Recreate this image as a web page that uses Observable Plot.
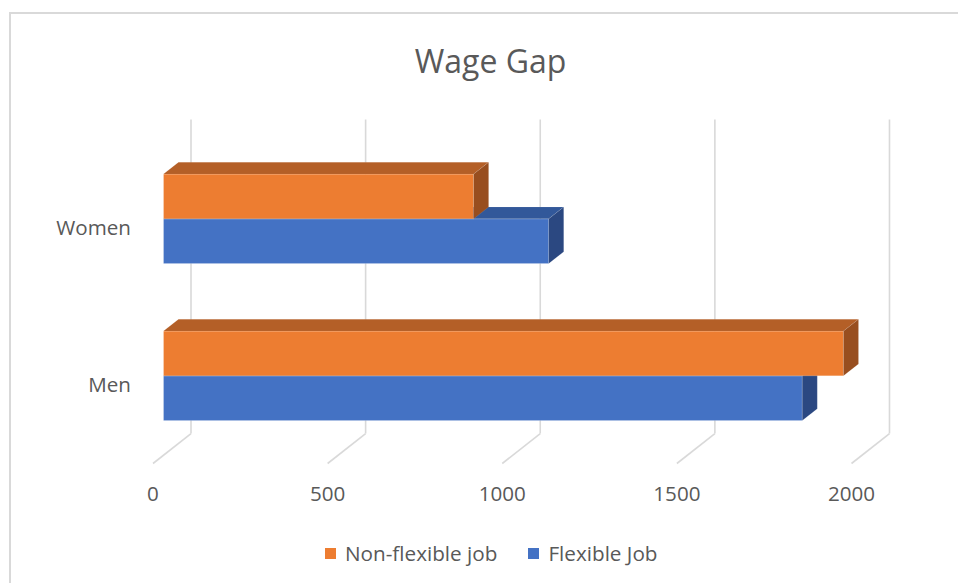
<!DOCTYPE html>
<html>
<head>
<meta charset="utf-8">
<script src="https://cdn.jsdelivr.net/npm/d3@7"></script>
<script src="https://cdn.jsdelivr.net/npm/@observablehq/plot@0.6"></script>
<style>
  body { margin: 0; background: #fff; }
  #wrap { position: relative; width: 958px; height: 583px; overflow: hidden; font-family: "Open Sans", sans-serif; color: #595959; background: #fff; }
  #frame { position: absolute; left: 9px; top: 12px; width: 1200px; height: 1200px; border-left: 2px solid #d9d9d9; border-top: 2px solid #d9d9d9; box-sizing: border-box; }
  #chart { position: absolute; left: 0; top: 0; }
  #title { position: absolute; left: 0; width: 981px; top: 44.5px; font-size: 32px; line-height: 32px; text-align: center; white-space: nowrap; }
  #legend { position: absolute; left: 325px; top: 540px; height: 26px; display: flex; align-items: center; font-size: 20.7px; line-height: 26px; white-space: nowrap; }
  #legend .item { display: flex; align-items: center; }
  #legend .sw { width: 11px; height: 11px; margin-right: 9px; }
  #legend .item + .item { margin-left: 31px; }
</style>
</head>
<body>
<div id="wrap">
  <div id="frame"></div>
  <div id="chart"></div>
  <div id="title"></div>
  <div id="legend"></div>
</div>
<script>
// ---- data ----
const title = "Wage Gap";
const categories = ["Men", "Women"];                 // bottom to top
const seriesNames = ["Flexible Job", "Non-flexible job"]; // lower bar, upper bar
const flexibleJob = [1829, 1103];
const nonFlexibleJob = [1947, 888];
const xTicks = [0, 500, 1000, 1500, 2000];
const legendOrder = ["Non-flexible job", "Flexible Job"];

// ---- styling / projection ----
const palette = {
  "Non-flexible job": {front: "#ED7D31", top: "#B45F27", side: "#984E1F"},
  "Flexible Job":     {front: "#4472C4", top: "#32589A", side: "#2B4881"}
};
const DX = 108.8;   // x-shift (value units) from front floor edge to back wall
const DY = 0.191;   // y-shift (category units) from front floor edge to back wall
const dFront = 0.29, dBack = 0.684; // depth of bar front / back faces
const gapLo = 0.215, barH = 0.285;

const values = [flexibleJob, nonFlexibleJob];
const bars = [];
seriesNames.forEach((s, si) => {
  categories.forEach((c, ci) => {
    const lo = ci + gapLo + si * barH;
    bars.push({id: s + "|" + c, series: s, category: c, v: values[si][ci], lo, hi: lo + barH});
  });
});

const topPts = [], sidePts = [];
for (const b of bars) {
  for (const d of [dFront, dBack]) {
    topPts.push({id: b.id, series: b.series, y: b.hi + d * DY, x1: d * DX, x2: b.v + d * DX});
    sidePts.push({id: b.id, series: b.series, x: b.v + d * DX, y1: b.lo + d * DY, y2: b.hi + d * DY});
  }
}

const grid = {stroke: "#d9d9d9", strokeWidth: 1.6};
const marks = [
  // back wall gridlines
  Plot.link(xTicks, {x1: t => t + DX, y1: () => DY, x2: t => t + DX, y2: () => 2 + DY, ...grid}),
  // floor lines
  Plot.link(xTicks, {x1: t => t, y1: () => 0, x2: t => t + DX, y2: () => DY, ...grid})
];
for (const s of seriesNames) {
  const col = palette[s];
  marks.push(
    Plot.rect(bars.filter(b => b.series === s), {
      x1: () => dFront * DX, x2: b => b.v + dFront * DX,
      y1: b => b.lo + dFront * DY, y2: b => b.hi + dFront * DY,
      fill: col.front, stroke: "#ffffff", strokeOpacity: 0.25, strokeWidth: 0.8
    }),
    Plot.areaX(topPts.filter(p => p.series === s), {
      y: "y", x1: "x1", x2: "x2", z: "id", fill: col.top, stroke: "#ffffff", strokeOpacity: 0.15, strokeWidth: 0.6
    }),
    Plot.areaY(sidePts.filter(p => p.series === s), {
      x: "x", y1: "y1", y2: "y2", z: "id", fill: col.side, stroke: "#ffffff", strokeOpacity: 0.15, strokeWidth: 0.6
    })
  );
}

const chart = Plot.plot({
  width: 958,
  height: 583,
  marginLeft: 152.5,
  marginRight: 107,
  marginTop: 149,
  marginBottom: 120,
  style: {fontFamily: "'Open Sans', sans-serif", fontSize: "20.6px", color: "#595959", background: "transparent", overflow: "visible"},
  x: {domain: [0, 2000], ticks: xTicks, tickSize: 0, tickPadding: 23, tickFormat: d => String(d), label: null},
  y: {domain: [0, 2], ticks: [0.5, 1.5], tickSize: 0, tickPadding: 22, tickFormat: t => categories[Math.floor(t)], label: null},
  marks
});
document.getElementById("chart").appendChild(chart);

document.getElementById("title").textContent = title;
const legend = document.getElementById("legend");
for (const s of legendOrder) {
  const item = document.createElement("div");
  item.className = "item";
  const sw = document.createElement("span");
  sw.className = "sw";
  sw.style.background = palette[s].front;
  const tx = document.createElement("span");
  tx.textContent = s;
  item.appendChild(sw);
  item.appendChild(tx);
  legend.appendChild(item);
}
</script>
</body>
</html>
